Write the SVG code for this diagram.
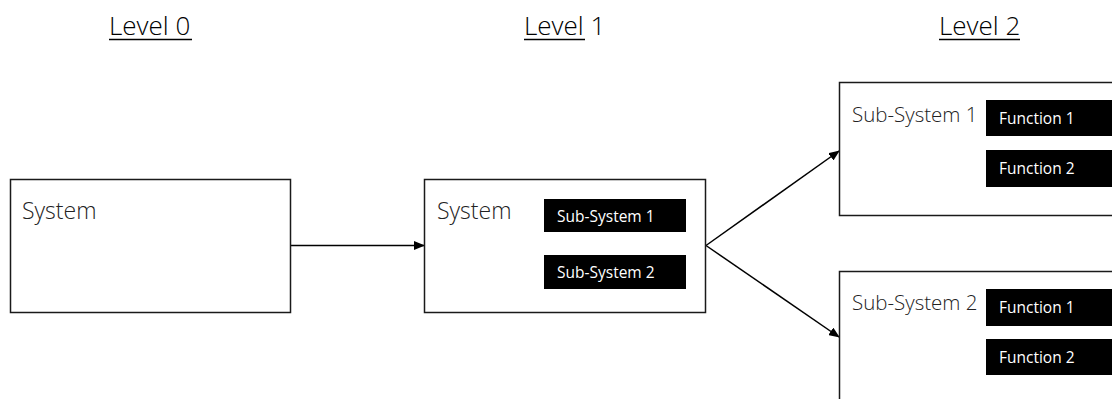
<svg xmlns="http://www.w3.org/2000/svg" width="1112" height="399" viewBox="0 0 1112 399">
<style>
.head{font-family:"Open Sans","Liberation Sans",sans-serif;font-weight:300;font-size:26px;fill:#000}
.lbl{font-family:"Open Sans","Liberation Sans",sans-serif;font-weight:300;font-size:23px;fill:#222}
.lbl2{font-family:"Open Sans","Liberation Sans",sans-serif;font-weight:300;font-size:20.5px;fill:#222}
.blk{fill:#000}
.wt{font-family:"Open Sans","Liberation Sans",sans-serif;font-weight:400;font-size:15.5px;fill:#fff}
.box{fill:#fff;stroke:#1a1a1a;stroke-width:1.5}
.con{stroke:#000;stroke-width:1.5;fill:none}
</style>
<defs>
<marker id="ah" markerWidth="11" markerHeight="9" refX="10" refY="4.5" orient="auto" markerUnits="userSpaceOnUse">
<path d="M0,0 L11,4.5 L0,9 z" fill="#000"/>
</marker>
</defs>
<rect width="1112" height="399" fill="#fff"/>
<g id="headings">
<text class="head" x="109" y="35">Level 0</text>
<line x1="109" y1="39.5" x2="192" y2="39.5" stroke="#000" stroke-width="1.3"/>
<text class="head" x="524" y="35">Level 1</text>
<line x1="524" y1="39.5" x2="585" y2="39.5" stroke="#000" stroke-width="1.3"/>
<text class="head" x="939" y="35">Level 2</text>
<line x1="939" y1="39.5" x2="1020" y2="39.5" stroke="#000" stroke-width="1.3"/>
</g>
<g id="connectors">
<line class="con" x1="291" y1="245.5" x2="424" y2="245.5" marker-end="url(#ah)"/>
<line class="con" x1="706" y1="245.5" x2="839" y2="151" marker-end="url(#ah)"/>
<line class="con" x1="706" y1="245.5" x2="839" y2="337" marker-end="url(#ah)"/>
</g>
<g id="level0-system">
<rect class="box" x="10.5" y="179.5" width="280" height="133"/>
<text class="lbl" x="22" y="219">System</text>
</g>
<g id="level1-system">
<rect class="box" x="424.5" y="179.5" width="281" height="133"/>
<text class="lbl" x="437" y="219">System</text>
<g id="l1-sub1">
<rect class="blk" x="544" y="199" width="142" height="33"/>
<text class="wt" x="557" y="222">Sub-System 1</text>
</g>
<g id="l1-sub2">
<rect class="blk" x="544" y="255" width="142" height="34"/>
<text class="wt" x="557" y="278">Sub-System 2</text>
</g>
</g>
<g id="level2-sub1">
<rect class="box" x="839.5" y="82.5" width="290" height="133"/>
<text class="lbl2" x="852" y="122">Sub-System 1</text>
<g id="l2a-func1">
<rect class="blk" x="986" y="100" width="140" height="36"/>
<text class="wt" x="999" y="124">Function 1</text>
</g>
<g id="l2a-func2">
<rect class="blk" x="986" y="150" width="140" height="37"/>
<text class="wt" x="999" y="174">Function 2</text>
</g>
</g>
<g id="level2-sub2">
<rect class="box" x="839.5" y="271.5" width="290" height="140"/>
<text class="lbl2" x="852" y="310">Sub-System 2</text>
<g id="l2b-func1">
<rect class="blk" x="986" y="289" width="140" height="37"/>
<text class="wt" x="999" y="313">Function 1</text>
</g>
<g id="l2b-func2">
<rect class="blk" x="986" y="339" width="140" height="36"/>
<text class="wt" x="999" y="363">Function 2</text>
</g>
</g>
</svg>
